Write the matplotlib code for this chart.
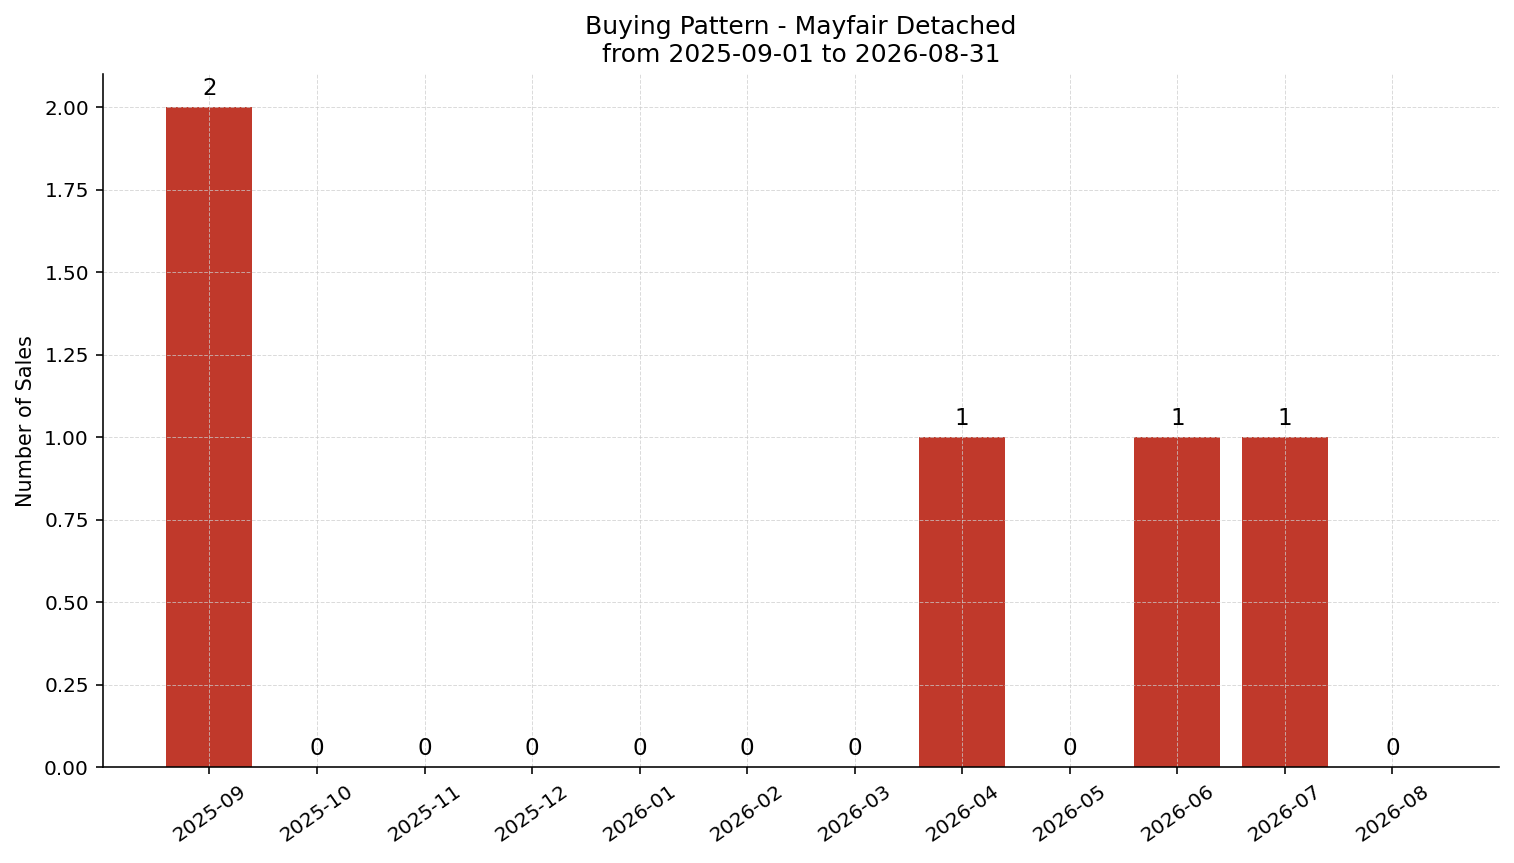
import matplotlib
matplotlib.use("Agg")
import matplotlib.pyplot as plt

# monthly sales counts
months = ["2025-09", "2025-10", "2025-11", "2025-12", "2026-01", "2026-02",
          "2026-03", "2026-04", "2026-05", "2026-06", "2026-07", "2026-08"]
sales = [2, 0, 0, 0, 0, 0, 0, 1, 0, 1, 1, 0]

DPI = 144
fig, ax = plt.subplots(figsize=(1514 / DPI, 863 / DPI), dpi=DPI)
fig.subplots_adjust(left=0.068, right=0.990, bottom=0.111, top=0.914)

bars = ax.bar(months, sales, color="#c0392b", width=0.8)
for b, v in zip(bars, sales):
    ax.text(b.get_x() + b.get_width() / 2, v + 0.021, str(v),
            ha="center", va="bottom", fontsize=11.5)

ax.set_ylim(0, 2.1)
ax.set_ylabel("Number of Sales", fontsize=10.4)
ax.set_title("Buying Pattern - Mayfair Detached\nfrom 2025-09-01 to 2026-08-31", fontsize=12.5)
ax.tick_params(axis="x", labelrotation=35, labelsize=10)
ax.tick_params(axis="y", labelsize=10)
ax.grid(True, linestyle="--", linewidth=0.5, alpha=0.7, color="#cccccc")
ax.spines["top"].set_visible(False)
ax.spines["right"].set_visible(False)

fig.savefig("out.png", dpi=DPI)
